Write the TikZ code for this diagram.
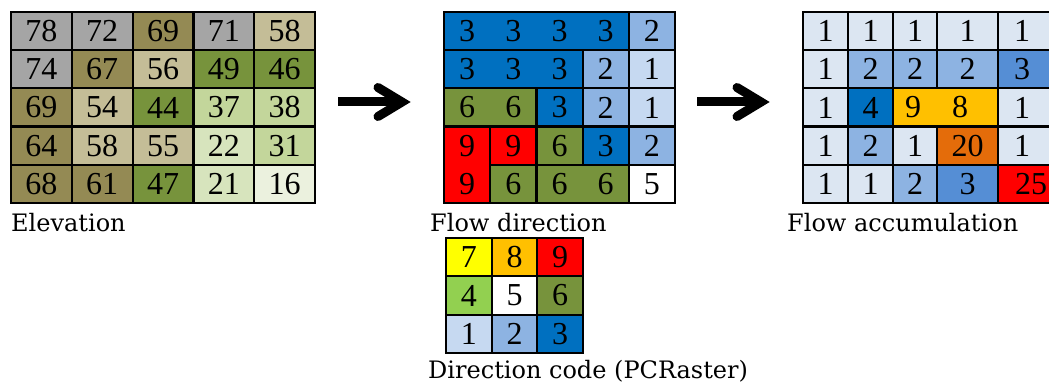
\documentclass[tikz,border=0pt]{standalone}
\usepackage{fontspec}
\setmainfont{Liberation Serif}
\newfontfamily\labfont{DejaVu Serif}
\definecolor{eG}{HTML}{A5A5A5}
\definecolor{eO}{HTML}{948A54}
\definecolor{eT}{HTML}{C4BD97}
\definecolor{eGr}{HTML}{77933C}
\definecolor{eLa}{HTML}{C3D69B}
\definecolor{eLb}{HTML}{D7E4BD}
\definecolor{eLc}{HTML}{EBF1DE}
\definecolor{fB}{HTML}{0070C0}
\definecolor{fLB}{HTML}{8DB3E2}
\definecolor{fLL}{HTML}{C6D9F1}
\definecolor{fGn}{HTML}{77933C}
\definecolor{fR}{HTML}{FF0000}
\definecolor{fW}{HTML}{FFFFFF}
\definecolor{fY}{HTML}{FFFF00}
\definecolor{fO}{HTML}{FFC000}
\definecolor{fLg}{HTML}{92D050}
\definecolor{aA}{HTML}{DCE6F2}
\definecolor{aM}{HTML}{558ED5}
\definecolor{aOr}{HTML}{E46C0A}
\begin{document}
\begin{tikzpicture}[x=1pt,y=-1pt,
  num/.style={inner sep=0pt, font=\fontsize{32}{38}\selectfont},
  lab/.style={anchor=base west, inner sep=0pt, font=\labfont\fontsize{24}{28}\selectfont},
  gridline/.style={line width=2.2pt, black},
  bigarrow/.style={line width=9pt, black}]
\useasboundingbox (0,0) rectangle (1049,385);
\clip (0,0) rectangle (1049,385);

% ---------- Elevation ----------
\foreach \v/\f [count=\i from 0] in {78/eG,72/eG,69/eO,71/eG,58/eT,
  74/eG,67/eO,56/eT,49/eGr,46/eGr,
  69/eO,54/eT,44/eGr,37/eLa,38/eLa,
  64/eO,58/eT,55/eT,22/eLb,31/eLa,
  68/eO,61/eO,47/eGr,21/eLb,16/eLc}{
  \pgfmathtruncatemacro\cc{mod(\i,5)}
  \pgfmathtruncatemacro\rr{int(\i/5)}
  \pgfmathsetmacro\xa{11+60.8*\cc}
  \pgfmathsetmacro\ya{12+38.2*\rr}
  \fill[\f] (\xa,\ya) rectangle ++(60.8,38.2);
  \node[num] (e\rr\cc) at (\xa+30.4,\ya+19.1) {\v};
}
\draw[gridline] (11,12) rectangle (315,203);
\foreach \x in {71.8,132.6,193.4,254.2} \draw[gridline] (\x,12) -- (\x,203);
\foreach \y in {50.2,88.4,126.6,164.8} \draw[gridline] (11,\y) -- (315,\y);
\node[lab] (elab) at (11,231) {Elevation};

% ---------- Flow direction ----------
\foreach \v/\f [count=\i from 0] in {3/fB,3/fB,3/fB,3/fB,2/fLB,
  3/fB,3/fB,3/fB,2/fLB,1/fLL,
  6/fGn,6/fGn,3/fB,2/fLB,1/fLL,
  9/fR,9/fR,6/fGn,3/fB,2/fLB,
  9/fR,6/fGn,6/fGn,6/fGn,5/fW}{
  \pgfmathtruncatemacro\cc{mod(\i,5)}
  \pgfmathtruncatemacro\rr{int(\i/5)}
  \pgfmathsetmacro\xa{444+46.2*\cc}
  \pgfmathsetmacro\ya{12+38.2*\rr}
  \fill[\f] (\xa,\ya) rectangle ++(46.2,38.2);
  \node[num] (f\rr\cc) at (\xa+23.1,\ya+19.1) {\v};
}
\draw[gridline] (444,12) rectangle (675,203);
\foreach \y in {50.2,88.4,126.6} \draw[gridline] (444,\y) -- (675,\y);
\draw[gridline] (490.2,164.8) -- (675,164.8);
\draw[gridline] (628.8,12) -- (628.8,203);
\draw[gridline] (582.6,50.2) -- (582.6,164.8);
\draw[gridline] (536.4,88.4) -- (536.4,203);
\draw[gridline] (490.2,126.6) -- (490.2,203);
\node[lab] (flab) at (430,231) {Flow direction};

% ---------- Flow accumulation ----------
\foreach \v/\f/\tx [count=\i from 0] in {1/aA/825.5,1/aA/870.5,1/aA/915,1/aA/967.5,1/aA/1022,
  1/aA/825.5,2/fLB/870.5,2/fLB/915,2/fLB/967.5,3/aM/1022,
  1/aA/825.5,4/fB/870.5,9/fO/913,8/fO/960,1/aA/1022,
  1/aA/825.5,2/fLB/870.5,1/aA/915,20/aOr/967.5,1/aA/1022,
  1/aA/825.5,1/aA/870.5,2/fLB/915,3/aM/967.5,25/fR/1031}{
  \pgfmathtruncatemacro\cc{mod(\i,5)}
  \pgfmathtruncatemacro\rr{int(\i/5)}
  \pgfmathsetmacro\xa{{803,848,893,937,998}[\cc]}
  \pgfmathsetmacro\xb{{848,893,937,998,1052}[\cc]}
  \pgfmathsetmacro\ya{12+38.2*\rr}
  \fill[\f] (\xa,\ya) rectangle (\xb,\ya+38.2);
  \node[num] (a\rr\cc) at (\tx,\ya+19.1) {\v};
}
\draw[gridline] (1052,12) -- (803,12) -- (803,203) -- (1052,203);
\foreach \y in {50.2,88.4,126.6,164.8} \draw[gridline] (803,\y) -- (1052,\y);
\foreach \x in {848,893,998} \draw[gridline] (\x,12) -- (\x,203);
\draw[gridline] (937,12) -- (937,88.4);
\draw[gridline] (937,126.6) -- (937,203);
\node[lab] (alab) at (787,231) {Flow accumulation};

% ---------- Direction code ----------
\foreach \v/\f [count=\i from 0] in {7/fY,8/fO,9/fR,4/fLg,5/fW,6/fGn,1/fLL,2/fLB,3/fB}{
  \pgfmathtruncatemacro\cc{mod(\i,3)}
  \pgfmathtruncatemacro\rr{int(\i/3)}
  \pgfmathsetmacro\xa{446+45.67*\cc}
  \pgfmathsetmacro\ya{238+38.33*\rr}
  \fill[\f] (\xa,\ya) rectangle ++(45.67,38.33);
  \node[num] (d\rr\cc) at (\xa+22.83,\ya+19.17) {\v};
}
\draw[gridline] (446,238) rectangle (583,353);
\foreach \x in {491.67,537.33} \draw[gridline] (\x,238) -- (\x,353);
\foreach \y in {276.33,314.67} \draw[gridline] (446,\y) -- (583,\y);
\node[lab] (dlab) at (428,378) {Direction code (PCRaster)};

% ---------- Arrows ----------
\coordinate (p1s) at (338,102);
\coordinate (p1t) at (402,102);
\coordinate (p2s) at (697,102);
\coordinate (p2t) at (761,102);
\foreach \s/\t in {p1s/p1t,p2s/p2t}{
  \draw[bigarrow] (\s) -- (\t);
  \draw[bigarrow, line cap=round, line join=miter]
    ([shift={(-24,-14.5)}]\t) -- (\t) -- ([shift={(-24,14.5)}]\t);
}
\end{tikzpicture}
\end{document}
